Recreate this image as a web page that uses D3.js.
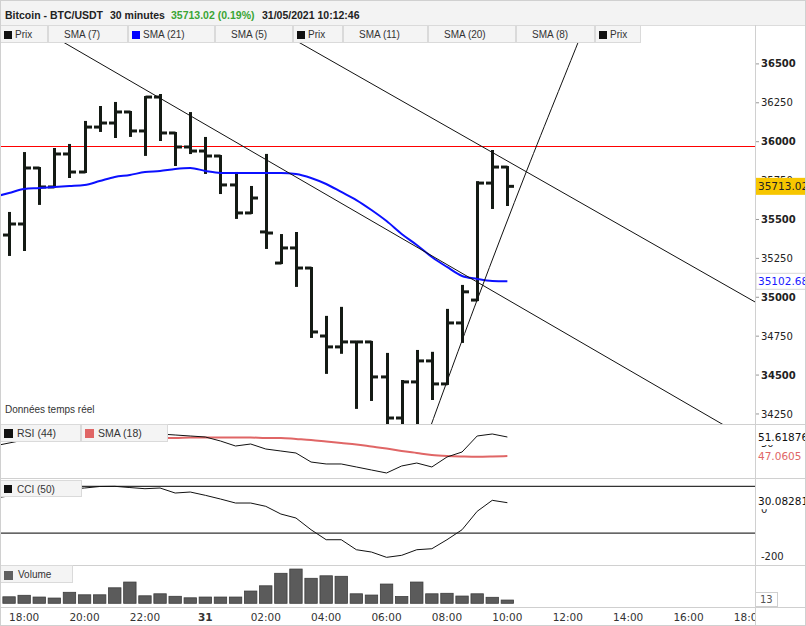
<!DOCTYPE html>
<html><head><meta charset="utf-8">
<script src="https://cdn.jsdelivr.net/npm/d3@7"></script>
<style>body{margin:0;background:#fff}svg{display:block}</style>
</head><body><svg id="c" width="806" height="626"></svg>
<script>
// ---------- DATA ----------
const barTimes = ["2021-05-30 17:30","2021-05-30 18:00","2021-05-30 18:30","2021-05-30 19:00","2021-05-30 19:30","2021-05-30 20:00","2021-05-30 20:30","2021-05-30 21:00","2021-05-30 21:30","2021-05-30 22:00","2021-05-30 22:30","2021-05-30 23:00","2021-05-30 23:30","2021-05-31 00:00","2021-05-31 00:30","2021-05-31 01:00","2021-05-31 01:30","2021-05-31 02:00","2021-05-31 02:30","2021-05-31 03:00","2021-05-31 03:30","2021-05-31 04:00","2021-05-31 04:30","2021-05-31 05:00","2021-05-31 05:30","2021-05-31 06:00","2021-05-31 06:30","2021-05-31 07:00","2021-05-31 07:30","2021-05-31 08:00","2021-05-31 08:30","2021-05-31 09:00","2021-05-31 09:30","2021-05-31 10:00"];
const openP  = [35400,35471,35831,35709,35921,35805,36094,36120,36191,36069,36287,36056,35966,35940,35908,35722,35542,35420,35220,35317,35188,34751,34681,34713,34713,34488,34224,34456,34591,34443,34835,34982,35734,35837];
const highP  = [35542,35927,35831,35953,35979,36127,36223,36249,36191,36287,36300,36056,36184,36024,35908,35799,35709,35915,35400,35413,35188,34874,34932,34713,34713,34636,34462,34655,34643,34919,35073,35740,35940,35837];
const lowP   = [35272,35304,35600,35709,35773,35805,36069,36030,36037,35915,36011,35850,35927,35799,35670,35510,35542,35317,35220,35073,34745,34514,34643,34289,34340,34150,34150,34150,34346,34443,34713,34982,35574,35593];
const closeP = [35471,35831,35709,35921,35805,36094,36120,36191,36069,36287,36056,35966,35940,35908,35722,35542,35638,35413,35317,35188,34777,34681,34713,34713,34488,34224,34456,34591,34443,34835,35035,35734,35837,35713.02];
const volume = [26,32,25,21,44,34,34,62,85,30,38,28,22,25,25,25,49,70,120,137,100,110,108,38,33,77,27,85,38,40,29,38,24,13];

// indicator series include the bar before the first visible one (17:00)
const lineTimes = ["2021-05-30 17:00"].concat(barTimes);
const sma21 = [35645,35670,35696,35702,35709,35715,35722,35747,35773,35786,35805,35812,35825,35831,35812,35799,35799,35799,35799,35799,35792,35767,35728,35677,35625,35561,35490,35407,35336,35259,35195,35137,35118,35105,35102.68];
const rsi44 = [49.46,50.18,50.9,51.38,51.86,52.1,52.34,52.34,52.58,52.34,52.58,52.34,52.1,51.86,51.62,50.66,49.46,49.94,48.74,48.26,47.78,45.62,45.15,45.15,44.43,43.71,42.99,44.67,45.38,44.43,46.82,48.02,51.86,52.34,51.61876];
const rsiSma18 = [50.66,50.78,50.9,51.02,51.14,51.14,51.26,51.26,51.38,51.38,51.38,51.38,51.38,51.5,51.5,51.5,51.5,51.5,51.38,51.38,51.14,50.9,50.54,50.18,49.82,49.34,48.86,48.26,47.78,47.3,47.06,46.94,46.87,46.94,47.0605];
const cci50 = [50.1,58.7,71.5,80,84.4,88.7,93,99.4,100.2,95,90,93,71.5,75.8,61.7,45.8,28.7,28.7,14.6,-18.4,-35.5,-85.7,-128.5,-128.5,-171.3,-181.2,-203.9,-195.3,-171.3,-167,-128.5,-85.7,-6.9,40.3,30.08281];
const cciLevels = [100,-100];

const resistance = 35972;
const trendA = [["2021-05-30 18:02",36782],["2021-05-31 17:10",34179]];
const trendB = [["2021-05-31 01:48",36782],["2021-05-31 18:12",34970]];
const trendC = [["2021-05-31 07:18",34083],["2021-05-31 07:30",34192],["2021-05-31 09:00",34983],["2021-05-31 10:39",35818],["2021-05-31 12:20",36634],["2021-05-31 12:38",36782]];

const priceTicks = [34250,34500,34750,35000,35250,35500,35750,36000,36250,36500];
const rsiTicks = [50];
const cciTicks = [0,-200];
const timeTicks = ["2021-05-30 18:00","2021-05-30 20:00","2021-05-30 22:00","2021-05-31 00:00","2021-05-31 02:00","2021-05-31 04:00","2021-05-31 06:00","2021-05-31 08:00","2021-05-31 10:00","2021-05-31 12:00","2021-05-31 14:00","2021-05-31 16:00","2021-05-31 18:00"];
const timeLabels = ["18:00","20:00","22:00","31","02:00","04:00","06:00","08:00","10:00","12:00","14:00","16:00","18:00"];

const titleParts = ["Bitcoin - BTC/USDT","30 minutes","35713.02 (0.19%)","31/05/2021 10:12:46"];
const topTabs = [["Prix","#111"],["SMA (7)",null],["SMA (21)","#0000ff"],["SMA (5)",null],["Prix","#111"],["SMA (11)",null],["SMA (20)",null],["SMA (8)",null],["Prix","#111"]];
const rsiTabs = [["RSI (44)","#111"],["SMA (18)","#e06666"]];
const cciTabs = [["CCI (50)","#111"]];
const volTabs = [["Volume","#606060"]];

// ---------- LAYOUT ----------
const W=806, H=626, PR=755;
const topTabW=[48,80,87,78,50,85,88,79,46];
const main={t:43,b:424}, rsiP={t:424,b:478}, cciP={t:478,b:565}, volP={t:565,b:607};
const parse=d3.timeParse("%Y-%m-%d %H:%M");
const x=d3.scaleTime().domain([parse("2021-05-30 17:12"),parse("2021-05-31 18:12")]).range([0,PR]);
const yP=d3.scaleLinear().domain([34100,36650]).range([437.3,40.56]);
const yR=d3.scaleLinear().domain([40,55]).range([485.46,422.9]);
const yC=d3.scaleLinear().domain([-250,150]).range([568.1,474.7]);
const yV=d3.scaleLinear().domain([0,160]).range([603.3,563.3]);
const SANS='"Liberation Sans",Arial,sans-serif', DV='"DejaVu Sans",Verdana,sans-serif';
const BAR="#141a14";

const svg=d3.select("#c");
svg.append("rect").attr("width",W).attr("height",H).attr("fill","#fff");
const defs=svg.append("defs");
function clip(id,p){defs.append("clipPath").attr("id",id).append("rect").attr("x",0).attr("y",p.t).attr("width",PR).attr("height",p.b-p.t);}
clip("cm",main);clip("cr",rsiP);clip("cc",cciP);clip("cv",volP);

// ---------- header ----------
svg.append("rect").attr("x",0).attr("y",0).attr("width",W).attr("height",25).attr("fill","#f3f3f3");
svg.append("line").attr("x1",0).attr("x2",W).attr("y1",25.5).attr("y2",25.5).attr("stroke","#dcdcdc");
const titleX=[5,110,171,262];
titleParts.forEach((t,i)=>svg.append("text").attr("x",titleX[i]).attr("y",19).attr("font-family",SANS).attr("font-weight","bold").attr("font-size",10.5).attr("fill",i===2?"#3aa535":"#222").text(t));

function drawTabs(tabs,widths,top,h,opt){
  let left=0;
  tabs.forEach((tb,i)=>{
    const w=widths[i];
    svg.append("rect").attr("x",left+0.5).attr("y",top+0.5).attr("width",w-1).attr("height",h-1).attr("fill","#f4f4f4").attr("stroke","#dadada");
    let tx=left+opt.txt;
    if(tb[1]){svg.append("rect").attr("x",left+4).attr("y",top+opt.sy).attr("width",opt.ss).attr("height",opt.ss).attr("fill",tb[1]);tx=left+opt.stxt;}
    svg.append("text").attr("x",tx).attr("y",top+opt.ty).attr("font-family",SANS).attr("font-size",opt.fs).attr("fill","#333").text(tb[0]);
    left+=w;
  });
}

// ---------- main panel ----------
const gm=svg.append("g").attr("clip-path","url(#cm)");
const ry=Math.round(yP(resistance))+0.5;
gm.append("line").attr("x1",0).attr("x2",PR).attr("y1",ry).attr("y2",ry).attr("stroke","#ff0000").attr("stroke-width",1);
const bt=barTimes.map(parse);
const bars=gm.append("g");
bt.forEach((t,i)=>{
  const cx=Math.round(x(t))+0.5;
  bars.append("line").attr("x1",cx).attr("x2",cx).attr("y1",yP(highP[i])-1).attr("y2",yP(lowP[i])+1).attr("stroke",BAR).attr("stroke-width",3);
  bars.append("line").attr("x1",cx-6.5).attr("x2",cx).attr("y1",yP(openP[i])).attr("y2",yP(openP[i])).attr("stroke",BAR).attr("stroke-width",3);
  bars.append("line").attr("x1",cx).attr("x2",cx+6.5).attr("y1",yP(closeP[i])).attr("y2",yP(closeP[i])).attr("stroke",BAR).attr("stroke-width",3);
});
const lt=lineTimes.map(parse);
gm.append("path").attr("d",d3.line().x((d,i)=>x(lt[i])).y(d=>yP(d)).curve(d3.curveMonotoneX)(sma21)).attr("fill","none").attr("stroke","#0b10ff").attr("stroke-width",2);
const tl=d3.line().x(d=>x(parse(d[0]))).y(d=>yP(d[1]));
[trendA,trendB].forEach(tr=>gm.append("path").attr("d",tl(tr)).attr("fill","none").attr("stroke","#111").attr("stroke-width",1));
gm.append("path").attr("d",tl.curve(d3.curveCatmullRom)(trendC)).attr("fill","none").attr("stroke","#111").attr("stroke-width",1);
svg.append("text").attr("x",5).attr("y",413).attr("font-family",SANS).attr("font-size",10).attr("fill","#333").text("Données temps réel");

drawTabs(topTabs,topTabW,25,18,{txt:16,stxt:15,sy:6,ss:8,ty:13,fs:10});

// price axis
priceTicks.forEach(v=>{
  const y=yP(v);
  svg.append("line").attr("x1",PR).attr("x2",PR+4).attr("y1",y).attr("y2",y).attr("stroke","#999");
  svg.append("text").attr("x",PR+6).attr("y",y+3.6).attr("font-family",DV).attr("font-size",10).attr("font-weight",v%500===0?"bold":"normal").attr("fill","#222").text(v);
});
// last price label
const lp=yP(closeP[closeP.length-1]);
svg.append("rect").attr("x",PR+1).attr("y",lp-8.5).attr("width",W-PR).attr("height",17).attr("fill","#f7c600");
svg.append("text").attr("x",PR+3).attr("y",lp+4).attr("font-family",DV).attr("font-size",10.5).attr("fill","#222").text(closeP[closeP.length-1].toFixed(2));
const ls=yP(sma21[sma21.length-1]);
svg.append("rect").attr("x",PR+1).attr("y",ls-8).attr("width",W-PR).attr("height",16).attr("fill","#fff").attr("stroke","#d8d8d8");
svg.append("text").attr("x",PR+3).attr("y",ls+3.5).attr("font-family",DV).attr("font-size",10.5).attr("fill","#1a1aff").text(sma21[sma21.length-1].toFixed(2));

// ---------- RSI panel ----------
svg.append("line").attr("x1",0).attr("x2",W).attr("y1",rsiP.t+0.5).attr("y2",rsiP.t+0.5).attr("stroke","#d0d0d0");
const gr=svg.append("g").attr("clip-path","url(#cr)");
gr.append("path").attr("d",d3.line().x((d,i)=>x(lt[i])).y(d=>yR(d)).curve(d3.curveMonotoneX)(rsiSma18)).attr("fill","none").attr("stroke","#e06666").attr("stroke-width",2);
gr.append("path").attr("d",d3.line().x((d,i)=>x(lt[i])).y(d=>yR(d))(rsi44)).attr("fill","none").attr("stroke","#111").attr("stroke-width",1);
drawTabs(rsiTabs,[81,87],rsiP.t,18,{txt:16,stxt:17,sy:5,ss:9,ty:13,fs:10.5});
rsiTicks.forEach(v=>svg.append("text").attr("x",PR+6).attr("y",yR(v)+3.6).attr("font-family",DV).attr("font-size",10).attr("fill","#222").text(v));
function valLabel(yy,col,txt){
  svg.append("rect").attr("x",PR+1).attr("y",yy-8).attr("width",W-PR).attr("height",16).attr("fill","#fff");
  svg.append("text").attr("x",PR+3).attr("y",yy+4).attr("font-family",DV).attr("font-size",10.5).attr("fill",col).text(txt);
}
valLabel(yR(rsi44[rsi44.length-1]),"#111",String(rsi44[rsi44.length-1]));
valLabel(yR(rsiSma18[rsiSma18.length-1]),"#e06666",String(rsiSma18[rsiSma18.length-1]));

// ---------- CCI panel ----------
svg.append("line").attr("x1",0).attr("x2",W).attr("y1",cciP.t+0.5).attr("y2",cciP.t+0.5).attr("stroke","#d0d0d0");
const gc=svg.append("g").attr("clip-path","url(#cc)");
cciLevels.forEach(v=>gc.append("line").attr("x1",0).attr("x2",PR).attr("y1",yC(v)).attr("y2",yC(v)).attr("stroke","#333").attr("stroke-width",1.3));
gc.append("path").attr("d",d3.line().x((d,i)=>x(lt[i])).y(d=>yC(d))(cci50)).attr("fill","none").attr("stroke","#111").attr("stroke-width",1);
drawTabs(cciTabs,[82],cciP.t+2,17,{txt:16,stxt:17,sy:5,ss:8,ty:12.5,fs:10});
cciTicks.forEach(v=>svg.append("text").attr("x",PR+6).attr("y",yC(v)+3.6).attr("font-family",DV).attr("font-size",10).attr("fill","#222").text(v));
valLabel(yC(cci50[cci50.length-1])-1.5,"#111",String(cci50[cci50.length-1]));

// ---------- Volume panel ----------
svg.append("line").attr("x1",0).attr("x2",W).attr("y1",volP.t+0.5).attr("y2",volP.t+0.5).attr("stroke","#d0d0d0");
const gv=svg.append("g").attr("clip-path","url(#cv)");
gv.selectAll("rect").data(volume).join("rect")
  .attr("x",(d,i)=>x(bt[i])-6.2).attr("width",12.4)
  .attr("y",d=>yV(d)).attr("height",d=>yV(0)-yV(d))
  .attr("fill","#5b5b5b").attr("stroke","#3d3d3d").attr("stroke-width",0.8);
drawTabs(volTabs,[73],volP.t,18,{txt:16,stxt:18,sy:6,ss:9,ty:13,fs:10});
svg.append("rect").attr("x",PR+0.5).attr("y",592.5).attr("width",22).attr("height",14).attr("fill","#fff").attr("stroke","#cfcfcf");
svg.append("text").attr("x",PR+5).attr("y",603).attr("font-family",DV).attr("font-size",10).attr("fill","#555").text(volume[volume.length-1]);

// ---------- time axis ----------
svg.append("line").attr("x1",0).attr("x2",W).attr("y1",volP.b+0.5).attr("y2",volP.b+0.5).attr("stroke","#cfcfcf");
defs.append("clipPath").attr("id","cx").append("rect").attr("x",0).attr("y",volP.b).attr("width",PR).attr("height",H-volP.b);
const gxa=svg.append("g").attr("clip-path","url(#cx)");
timeTicks.forEach((t,i)=>{
  gxa.append("text").attr("x",x(parse(t))).attr("y",621).attr("text-anchor","middle").attr("font-family",DV).attr("font-size",10.5)
    .attr("font-weight",timeLabels[i]==="31"?"bold":"normal").attr("fill","#333").text(timeLabels[i]);
});

// right axis divider and frame
svg.append("line").attr("x1",PR+0.5).attr("x2",PR+0.5).attr("y1",25).attr("y2",H).attr("stroke","#d0d0d0");
svg.append("rect").attr("x",0.5).attr("y",0.5).attr("width",W-1).attr("height",H-1).attr("fill","none").attr("stroke","#d0d0d0");
</script></body></html>
